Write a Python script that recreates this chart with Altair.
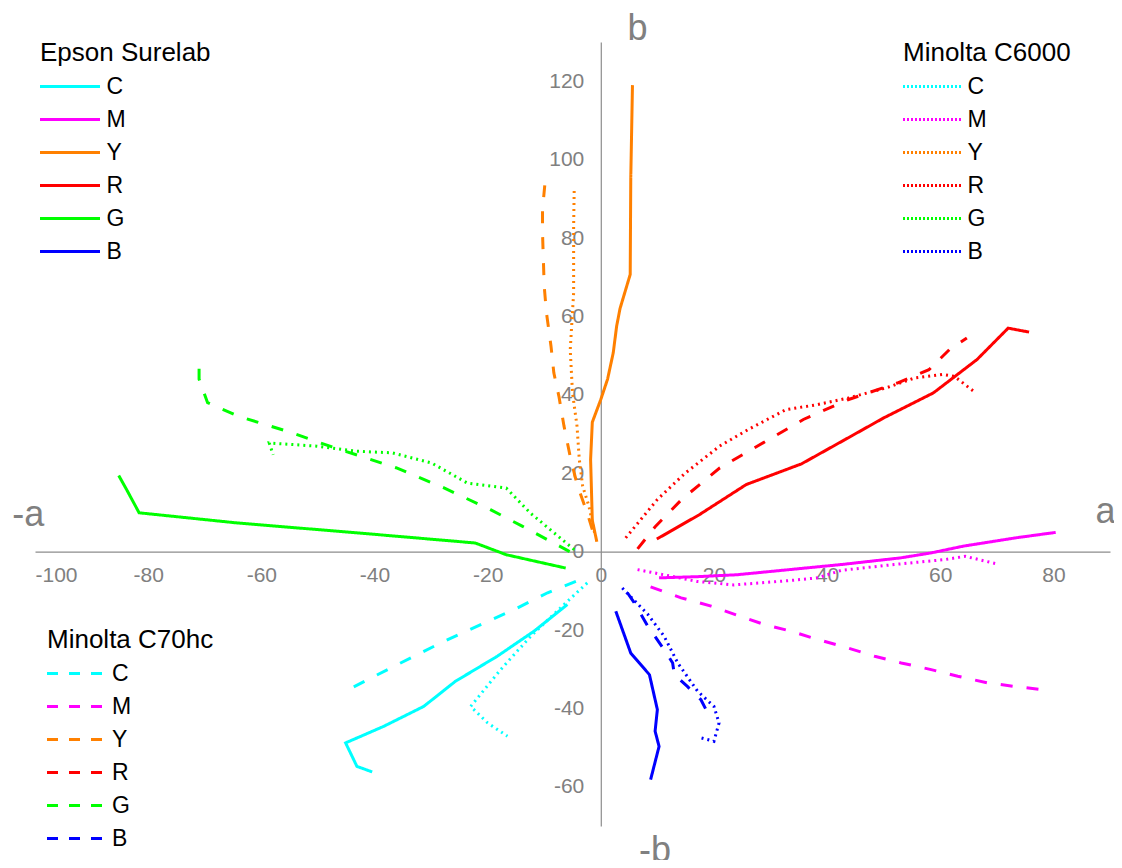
import altair as alt
import pandas as pd

# ---------------- data ----------------
inks = ["C", "M", "Y", "R", "G", "B"]
ink_colors = ["#00FFFF", "#FF00FF", "#FF8000", "#FF0000", "#00FF00", "#0000FF"]
printers = ["Epson Surelab", "Minolta C6000", "Minolta C70hc"]

x_ticks = [-100, -80, -60, -40, -20, 0, 20, 40, 60, 80]
y_ticks = [-60, -40, -20, 0, 20, 40, 60, 80, 100, 120]
x_domain = [-100, 90]
y_domain = [-70, 130]

# Epson Surelab (solid)
ep_C_a = [-5.9, -11.8, -18.3, -25.7, -31.3, -38.4, -45.1, -43.1, -40.4]
ep_C_b = [-13.5, -20.3, -26.7, -33.1, -39.5, -44.6, -48.8, -54.8, -56.2]
ep_M_a = [10.3, 17.0, 24.1, 33.3, 42.5, 53.0, 58.5, 64.1, 73.3, 80.4]
ep_M_b = [-6.7, -6.4, -5.9, -4.6, -3.3, -1.6, -0.3, 1.4, 3.5, 4.9]
ep_Y_a = [-0.7, -1.5, -1.8, -1.5, 0.0, 1.2, 2.2, 2.8, 3.4, 5.2, 5.3, 5.6]
ep_Y_b = [2.5, 8.0, 23.5, 33.0, 38.8, 44.0, 50.7, 57.5, 62.0, 70.7, 95.4, 119.0]
ep_R_a = [9.9, 17.4, 25.7, 35.5, 43.2, 50.0, 58.8, 66.5, 72.0, 75.7]
ep_R_b = [3.2, 9.4, 17.1, 22.4, 28.6, 34.1, 40.5, 49.0, 57.0, 56.0]
ep_G_a = [-6.2, -16.7, -22.2, -43.2, -64.2, -81.6, -83.8, -85.2]
ep_G_b = [-4.2, -0.8, 2.2, 4.8, 7.3, 9.9, 15.8, 19.4]
ep_B_a = [2.65, 5.3, 8.6, 10.0, 9.6, 10.3, 8.8]
ep_B_b = [-15.2, -25.9, -31.4, -40.3, -45.8, -49.7, -58.2]

# Minolta C6000 (dotted)
m6_C_a = [-2.4, -5.9, -12.4, -17.7, -23.0, -20.0, -16.5]
m6_C_b = [-8.0, -12.7, -21.6, -30.1, -39.5, -43.7, -47.1]
m6_M_a = [6.5, 11.8, 17.0, 23.5, 33.3, 38.3, 42.5, 51.8, 61.0, 64.4, 69.9]
m6_M_b = [-4.6, -6.1, -7.6, -8.5, -7.4, -6.7, -4.8, -3.3, -2.0, -1.2, -3.1]
m6_Y_a = [-1.1, -2.1, -3.2, -3.8, -4.2, -5.0, -5.4, -4.8, -4.8, -4.7]
m6_Y_b = [4.8, 11.6, 16.7, 23.5, 32.0, 40.5, 51.5, 66.0, 83.0, 92.3]
m6_R_a = [4.4, 10.0, 14.9, 21.0, 26.0, 32.7, 38.3, 43.8, 50.5, 55.5, 60.4, 62.5, 65.9]
m6_R_b = [3.5, 13.3, 20.0, 26.9, 31.1, 36.2, 37.5, 39.2, 41.8, 44.3, 45.2, 44.7, 40.9]
m6_G_a = [-4.7, -12.5, -16.7, -23.6, -29.9, -36.9, -43.2, -50.2, -58.6, -57.9]
m6_G_b = [0.5, 9.9, 16.2, 17.5, 22.6, 25.2, 25.6, 26.9, 27.7, 24.7]
m6_B_a = [3.8, 8.3, 11.2, 13.6, 17.1, 20.0, 20.9, 20.0, 17.7]
m6_B_b = [-9.3, -16.0, -21.6, -28.4, -35.6, -39.5, -43.7, -48.4, -47.5]

# Minolta C70hc (dashed)
m7_C_a = [-4.4, -9.4, -15.3, -20.0, -28.3, -36.6, -45.7]
m7_C_b = [-7.6, -10.5, -14.8, -17.8, -23.3, -29.3, -36.0]
m7_M_a = [8.8, 14.2, 19.5, 24.2, 28.9, 33.6, 38.3, 43.7, 48.4, 53.1, 58.4, 63.1, 68.4, 73.2, 79.1]
m7_M_b = [-9.0, -11.8, -13.9, -16.3, -18.6, -20.3, -22.4, -24.6, -26.7, -28.4, -30.1, -31.8, -33.5, -34.4, -35.4]
m7_Y_a = [-1.5, -2.4, -4.1, -5.3, -6.5, -7.4, -8.3, -8.8, -9.6, -10.0, -10.3, -10.3, -9.7]
m7_Y_b = [5.6, 9.9, 16.7, 23.5, 32.0, 39.6, 45.6, 52.4, 60.9, 67.7, 81.3, 87.2, 96.6]
m7_R_a = [6.5, 9.7, 14.3, 21.0, 26.6, 35.8, 43.8, 52.4, 58.0, 61.6, 64.7]
m7_R_b = [0.7, 6.5, 13.3, 21.3, 26.0, 33.7, 38.8, 43.0, 46.4, 51.5, 54.5]
m7_G_a = [-5.5, -13.9, -19.5, -27.8, -36.2, -47.5, -55.0, -64.0, -69.5, -71.0, -71.0]
m7_G_b = [0.0, 6.5, 10.7, 16.3, 21.4, 26.7, 30.5, 34.5, 38.0, 44.0, 48.5]
m7_B_a = [4.7, 5.9, 8.3, 11.2, 12.7, 13.0, 15.3, 17.7, 19.2]
m7_B_b = [-10.5, -13.0, -19.0, -25.0, -28.4, -31.4, -34.4, -37.8, -42.0]

# axis end letters
axis_letters = ["b", "-b", "-a", "a"]
axis_letters_a = [6.5, 9.6, -101.2, 89.2]
axis_letters_b = [133.2, -76.5, 9.4, 10.2]

series = {
    "Epson Surelab": {"C": (ep_C_a, ep_C_b), "M": (ep_M_a, ep_M_b), "Y": (ep_Y_a, ep_Y_b),
                      "R": (ep_R_a, ep_R_b), "G": (ep_G_a, ep_G_b), "B": (ep_B_a, ep_B_b)},
    "Minolta C6000": {"C": (m6_C_a, m6_C_b), "M": (m6_M_a, m6_M_b), "Y": (m6_Y_a, m6_Y_b),
                      "R": (m6_R_a, m6_R_b), "G": (m6_G_a, m6_G_b), "B": (m6_B_a, m6_B_b)},
    "Minolta C70hc": {"C": (m7_C_a, m7_C_b), "M": (m7_M_a, m7_M_b), "Y": (m7_Y_a, m7_Y_b),
                      "R": (m7_R_a, m7_R_b), "G": (m7_G_a, m7_G_b), "B": (m7_B_a, m7_B_b)},
}

# ---------------- layout / style ----------------
W, H = 1075, 784
FONT = "Liberation Sans"
GRAY = "#808080"

x_off = -H * (0 - y_domain[0]) / (y_domain[1] - y_domain[0])
y_off = -W * (0 - x_domain[0]) / (x_domain[1] - x_domain[0])

line_dash = {"Epson Surelab": [1, 0], "Minolta C6000": [2, 4], "Minolta C70hc": [12, 14]}
legend_dash = {"Epson Surelab": [1, 0], "Minolta C6000": [2, 2], "Minolta C70hc": [11, 11]}
legend_pos = {"Epson Surelab": (5, -2), "Minolta C6000": (868, -2), "Minolta C70hc": (12, 585)}
# horizontal stroke symbol, drawn as a custom path so the line can be long while rows stay tight
legend_path = {"Epson Surelab": "M-3,0H3", "Minolta C6000": "M-2.9,0H2.9", "Minolta C70hc": "M-2.75,0H2.75"}
legend_symoff = {"Epson Surelab": 18.5, "Minolta C6000": 17.5, "Minolta C70hc": 16}
legend_laboff = {"Epson Surelab": 25, "Minolta C6000": 24, "Minolta C70hc": 26}

label_expr = "datum.value < 0 ? '-' + abs(datum.value) : '' + datum.value"

x_enc = alt.X("a:Q", scale=alt.Scale(domain=x_domain, nice=False, zero=False),
              axis=alt.Axis(values=x_ticks, orient="bottom", offset=x_off, grid=False,
                            ticks=False, domainColor="#8c8c8c", domainWidth=1.2,
                            labelColor=GRAY, labelFontSize=21, labelFont=FONT,
                            labelPadding=13, labelOverlap=False, labelExpr=label_expr,
                            title=None))
y_enc = alt.Y("b:Q", scale=alt.Scale(domain=y_domain, nice=False, zero=False),
              axis=alt.Axis(values=y_ticks, orient="left", offset=y_off, grid=False,
                            ticks=False, domainColor="#8c8c8c", domainWidth=1.2,
                            labelColor=GRAY, labelFontSize=21, labelFont=FONT,
                            labelPadding=17, labelOverlap=False, labelExpr=label_expr,
                            title=None))

layers = []
for p in printers:
    rows = []
    for ink in inks:
        aa, bb = series[p][ink]
        for i, (av, bv) in enumerate(zip(aa, bb)):
            rows.append({"ink": ink, "a": av, "b": bv, "i": i})
    df = pd.DataFrame(rows)
    lx, ly = legend_pos[p]
    leg = alt.Legend(
        title=p, orient="none", legendX=lx, legendY=ly,
        symbolType=legend_path[p], symbolDash=legend_dash[p], symbolStrokeWidth=3,
        symbolSize=400, symbolOffset=legend_symoff[p], symbolFillColor="transparent",
        labelFontSize=23, labelFont=FONT, labelColor="black",
        titleFontSize=26, titleFont=FONT, titleFontWeight="normal", titleColor="black",
        titlePadding=9, rowPadding=9, labelOffset=legend_laboff[p], padding=0,
    )
    layer = alt.Chart(df).mark_line(strokeWidth=3, strokeDash=line_dash[p]).encode(
        x=x_enc, y=y_enc,
        color=alt.Color("ink:N", scale=alt.Scale(domain=inks, range=ink_colors), legend=leg),
        order="i:Q",
    )
    layers.append(layer)

letters_df = pd.DataFrame({"a": axis_letters_a, "b": axis_letters_b, "t": axis_letters})
letters = alt.Chart(letters_df).mark_text(
    fontSize=36, color=GRAY, font=FONT, align="center", baseline="middle"
).encode(x="a:Q", y="b:Q", text="t:N")

chart = alt.layer(*layers, letters).resolve_scale(color="independent").properties(
    width=W, height=H,
    autosize=alt.AutoSizeParams(type="none"),
    padding={"left": 27, "top": 34, "right": 4, "bottom": 34},
).configure_view(stroke=None)

chart.save("out.html", embed_options={"renderer": "svg", "actions": False})
